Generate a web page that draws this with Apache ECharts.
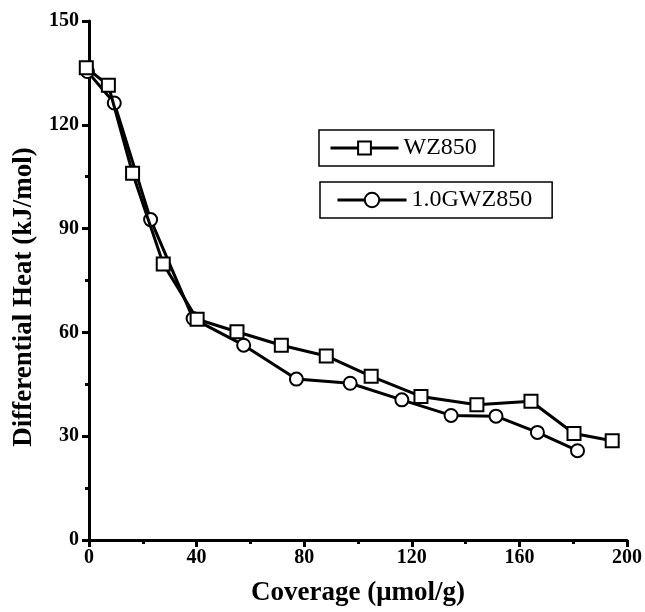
<!DOCTYPE html>
<html><head><meta charset="utf-8">
<script src="https://cdn.jsdelivr.net/npm/echarts@6/dist/echarts.min.js"></script>
<style>html,body{margin:0;padding:0;background:#fff}#c{width:645px;height:612px}</style>
</head><body><div id="c"></div>
<script>
var seriesNames = ['WZ850', '1.0GWZ850'];
var wzX = [-1, 7.2, 16.2, 27.6, 40.2, 55.0, 71.5, 88.2, 104.9, 123.4, 144.2, 164.3, 180.3, 194.5];
var wzY = [136.5, 131.4, 106.0, 79.8, 63.8, 60.2, 56.3, 53.2, 47.3, 41.5, 39.1, 40.1, 30.8, 28.7];
var gwzX = [-0.6, 9.4, 22.9, 38.7, 57.5, 77.1, 97.1, 116.3, 134.6, 151.3, 166.7, 181.6];
var gwzY = [135.4, 126.3, 92.6, 64.0, 56.3, 46.5, 45.3, 40.5, 36.0, 35.8, 31.1, 25.8];
var xTitle = 'Coverage (\u03bcmol/g)';
var yTitle = 'Differential Heat (kJ/mol)';

function pairs(xs, ys){ return xs.map(function(x,i){ return [x, ys[i]]; }); }

var chart = echarts.init(document.getElementById('c'), null, {renderer:'canvas'});
var fontFam = '"Liberation Serif", "Times New Roman", serif';
var legendBase = {
  orient: 'horizontal', borderColor: '#000', borderWidth: 1.5, backgroundColor: '#fff',
  itemGap: 0,
  textStyle: { fontFamily: fontFam, fontSize: 24, lineHeight: 26, color: '#000' },
  lineStyle: { width: 3, color: '#000' },
  itemStyle: { color: '#fff', borderColor: '#000', borderWidth: 2 },
  selectedMode: false
};
chart.setOption({
  backgroundColor: '#fff',
  animation: false,
  grid: { left: 89, top: 21, right: 17, bottom: 68, containLabel: false },
  legend: [
    Object.assign({}, legendBase, { data: [seriesNames[0]], left: 319, top: 130, itemWidth: 68, itemHeight: 16, padding: [5, 17, 5, 10] }),
    Object.assign({}, legendBase, { data: [seriesNames[1]], left: 320, top: 182, itemWidth: 69, itemHeight: 18, padding: [5, 20, 5, 16] })
  ],
  graphic: [{
    type: 'text', x: 24, y: 297, rotation: Math.PI / 2,
    style: { text: yTitle, fill: '#000', font: 'bold 27px ' + fontFam, textAlign: 'center', textVerticalAlign: 'middle' }
  }],
  xAxis: {
    type: 'value', min: 0, max: 200, interval: 40,
    name: xTitle, nameLocation: 'middle', nameGap: 40,
    nameTextStyle: { fontFamily: fontFam, fontWeight: 'bold', fontSize: 27, color: '#000' },
    axisLine: { show: true, lineStyle: { color: '#000', width: 3 } },
    axisTick: { show: true, inside: false, length: 7, lineStyle: { color: '#000', width: 3 } },
    minorTick: { show: true, splitNumber: 2, length: 4, lineStyle: { color: '#000', width: 3 } },
    axisLabel: { fontFamily: fontFam, fontWeight: 'bold', fontSize: 20, color: '#000', margin: 8 },
    splitLine: { show: false }
  },
  yAxis: {
    type: 'value', min: 0, max: 150, interval: 30,
    axisLine: { show: true, lineStyle: { color: '#000', width: 3 } },
    axisTick: { show: true, inside: false, length: 7, lineStyle: { color: '#000', width: 3 } },
    minorTick: { show: true, splitNumber: 2, length: 4, lineStyle: { color: '#000', width: 3 } },
    axisLabel: { fontFamily: fontFam, fontWeight: 'bold', fontSize: 20, color: '#000', margin: 10 },
    splitLine: { show: false }
  },
  series: [
    {
      name: seriesNames[0], type: 'line', data: pairs(wzX, wzY), clip: false,
      symbol: 'rect', symbolSize: 13,
      lineStyle: { color: '#000', width: 3 },
      itemStyle: { color: '#fff', borderColor: '#000', borderWidth: 2 },
      z: 3
    },
    {
      name: seriesNames[1], type: 'line', data: pairs(gwzX, gwzY), clip: false,
      symbol: 'circle', symbolSize: 13,
      lineStyle: { color: '#000', width: 3 },
      itemStyle: { color: '#fff', borderColor: '#000', borderWidth: 2 },
      z: 2
    }
  ]
});
</script></body></html>
